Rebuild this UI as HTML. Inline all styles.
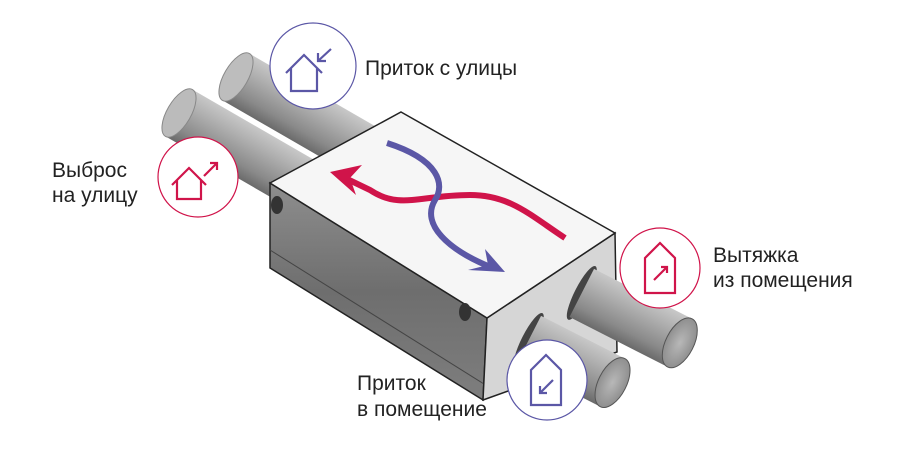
<!DOCTYPE html>
<html><head><meta charset="utf-8"><style>
html,body{margin:0;padding:0;background:#fff;width:911px;height:466px;overflow:hidden}
svg{display:block}
text{font-family:"Liberation Sans",sans-serif;font-size:21px;fill:#222}
</style></head><body>
<svg width="911" height="466" viewBox="0 0 911 466">
<defs>
<linearGradient id="pg" gradientUnits="userSpaceOnUse" x1="0" y1="-27" x2="0" y2="27">
<stop offset="0" stop-color="#c8c8c8"/><stop offset="0.3" stop-color="#b0b0b0"/><stop offset="0.75" stop-color="#8a8a8a"/><stop offset="1" stop-color="#6a6a6a"/>
</linearGradient>
<linearGradient id="side" x1="0" y1="0" x2="0" y2="1">
<stop offset="0" stop-color="#8e8e8e"/><stop offset="0.5" stop-color="#6e6e6e"/><stop offset="1" stop-color="#7e7e7e"/>
</linearGradient>
<radialGradient id="cap"><stop offset="0" stop-color="#b8b8b8"/><stop offset="1" stop-color="#8f8f8f"/></radialGradient>
</defs>
<!-- back pipes -->
<g transform="translate(236,77) rotate(30)"><rect x="0" y="-27" width="300" height="54" fill="url(#pg)"/><ellipse cx="0" cy="0" rx="12" ry="27" fill="#bdbdbd" stroke="#888"/></g>
<g transform="translate(179,113) rotate(30)"><rect x="0" y="-27" width="200" height="54" fill="url(#pg)"/><ellipse cx="0" cy="0" rx="12" ry="27" fill="#bbbbbb" stroke="#888"/></g>
<!-- box -->
<polygon points="270,183 487,318 483,400 270,268" fill="url(#side)" stroke="#222" stroke-width="1.5"/>
<line x1="270" y1="250" x2="484" y2="384" stroke="#444" stroke-width="1"/>
<polygon points="487,318 615,233 617,352 483,400" fill="#d6d6d6" stroke="#222" stroke-width="1.5"/>
<polygon points="401,112 615,233 487,318 270,183" fill="#f6f6f6" stroke="#222" stroke-width="1.5"/>
<ellipse cx="277" cy="205" rx="6" ry="9" fill="#333"/>
<ellipse cx="465" cy="312" rx="6" ry="9" fill="#333"/>
<!-- front pipes -->
<g transform="translate(580,292) rotate(27)"><ellipse cx="2" cy="0" rx="7" ry="30" fill="#444"/><rect x="2" y="-27" width="110" height="54" fill="url(#pg)"/><ellipse cx="112" cy="0" rx="14" ry="27" fill="url(#cap)" stroke="#555"/></g>
<g transform="translate(527,339) rotate(27)"><ellipse cx="2" cy="0" rx="7" ry="30" fill="#444"/><rect x="2" y="-27" width="94" height="54" fill="url(#pg)"/><ellipse cx="96" cy="0" rx="14" ry="27" fill="url(#cap)" stroke="#555"/></g>
<!-- arrows -->
<path d="M565,238 C530,215 510,195 470,195 C420,195 400,210 370,190 L345,178" fill="none" stroke="#d0144a" stroke-width="6"/>
<polygon points="330,172 362,165 350,178 356,195" fill="#d0144a"/>
<path d="M387,143 C440,160 445,185 435,200 C420,225 450,250 488,266" fill="none" stroke="#5b57a6" stroke-width="6"/>
<polygon points="505,272 485,249 488,265 468,270" fill="#5b57a6"/>
<!-- circles -->
<g fill="#fff" stroke-width="1.2">
<circle cx="313" cy="66" r="43" stroke="#5b57a6"/>
<circle cx="198" cy="177" r="40" stroke="#d0144a"/>
<circle cx="660" cy="268" r="40" stroke="#d0144a"/>
<circle cx="547" cy="380" r="40" stroke="#5b57a6"/>
</g>
<g fill="none" stroke-width="2.2">
<path d="M286,73 L304,55 L322,73 M291,68 V91 H317 V68" stroke="#5b57a6"/>
<path d="M331,49 L318,61 M318,53 V61 H326" stroke="#5b57a6"/>
<path d="M172,185 L189,168 L206,185 M177,180 V199 H201 V180" stroke="#d0144a"/>
<path d="M204,176 L217,163 M210,163 H217 V170" stroke="#d0144a"/>
<path d="M645,258 L660,243 L675,258 V293 H645 Z" stroke="#d0144a"/>
<path d="M654,280 L667,267 M661,267 H667 V273" stroke="#d0144a"/>
<path d="M531,370 L546,355 L561,370 V405 H531 Z" stroke="#5b57a6"/>
<path d="M553,380 L540,393 M540,386 V393 H547" stroke="#5b57a6"/>
</g>
<text x="365" y="75">Приток с улицы</text>
<text x="52" y="177">Выброс</text>
<text x="52" y="202">на улицу</text>
<text x="713" y="262">Вытяжка</text>
<text x="713" y="287">из помещения</text>
<text x="357" y="390">Приток</text>
<text x="357" y="416">в помещение</text>
</svg>
</body></html>
